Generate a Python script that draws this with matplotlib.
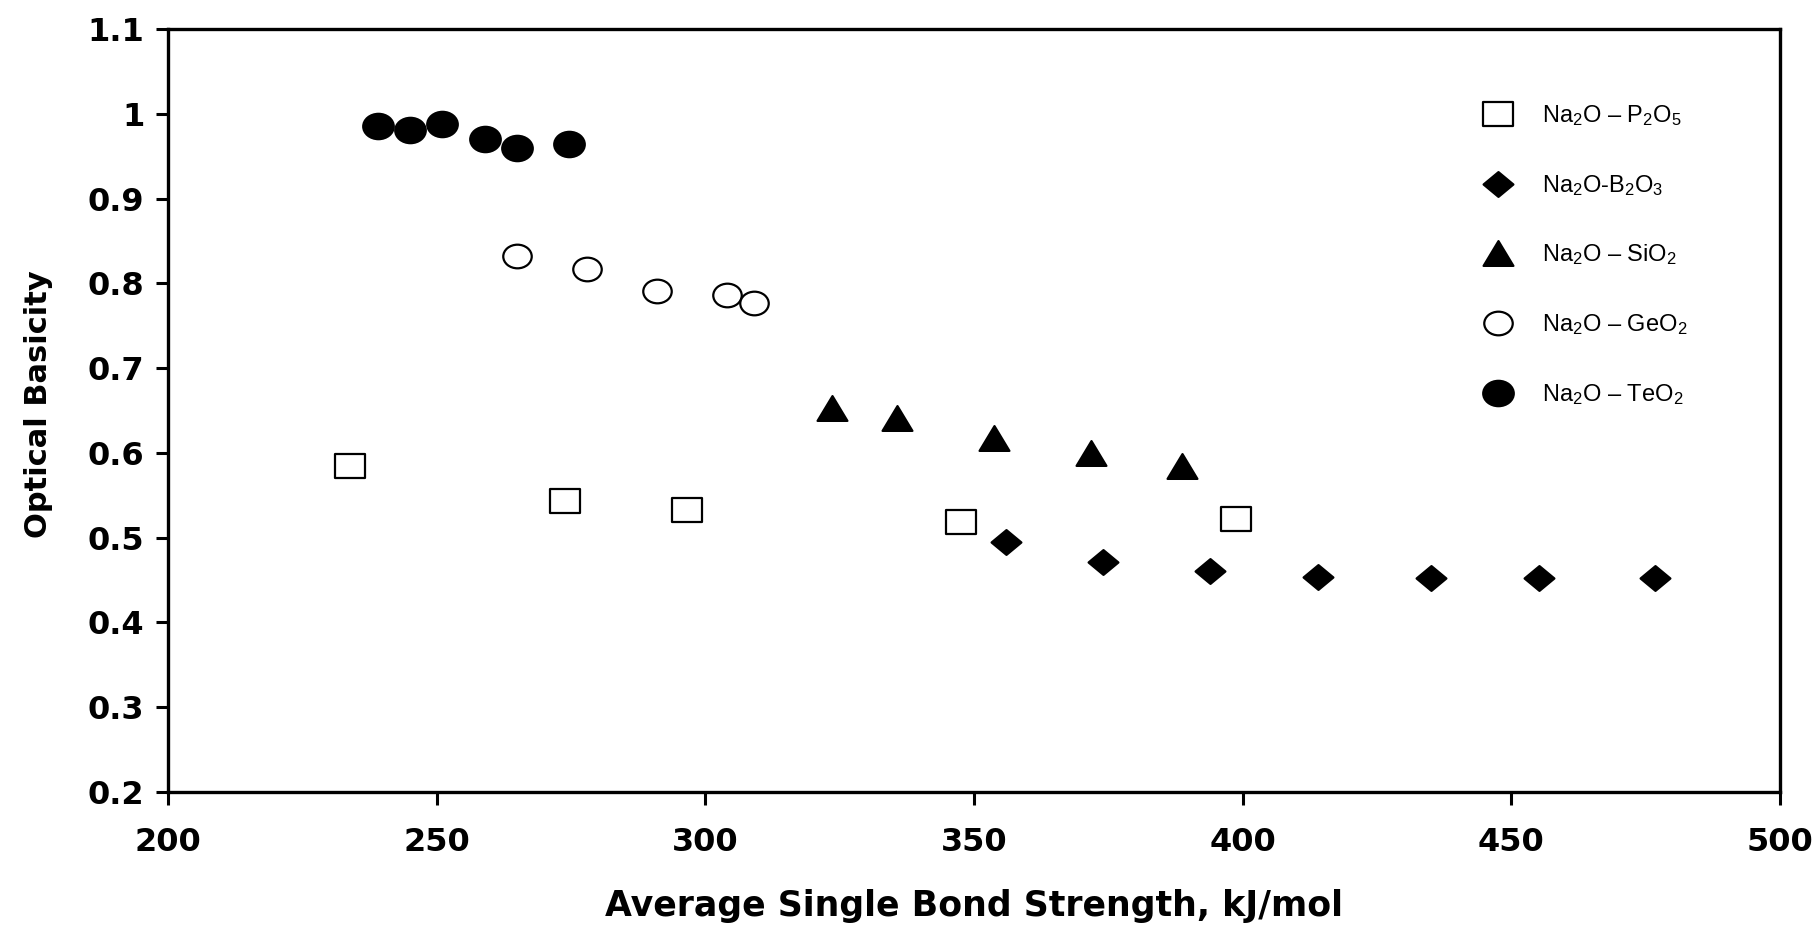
import matplotlib
matplotlib.use("Agg")
import matplotlib.pyplot as plt
from matplotlib.path import Path
from matplotlib.ticker import FuncFormatter
import numpy as np

# Optical basicity vs average single bond strength for sodium glass systems
p2o5_x = [233.8, 273.8, 296.6, 347.6, 398.8]
p2o5_y = [0.584, 0.543, 0.533, 0.519, 0.522]

b2o3_x = [356.0, 374.0, 394.0, 414.0, 435.0, 455.2, 476.8]
b2o3_y = [0.495, 0.471, 0.461, 0.454, 0.453, 0.452, 0.452]

sio2_x = [323.6, 335.6, 353.8, 371.8, 388.8]
sio2_y = [0.653, 0.641, 0.617, 0.600, 0.584]

geo2_x = [265.0, 278.0, 291.0, 304.0, 309.0]
geo2_y = [0.832, 0.817, 0.791, 0.786, 0.777]

teo2_x = [239.0, 245.0, 251.0, 259.0, 265.0, 274.7]
teo2_y = [0.986, 0.981, 0.988, 0.970, 0.960, 0.964]

labels = [r"Na$_2$O – P$_2$O$_5$", r"Na$_2$O-B$_2$O$_3$", r"Na$_2$O – SiO$_2$",
          r"Na$_2$O – GeO$_2$", r"Na$_2$O – TeO$_2$"]

plt.rcParams["font.family"] = ["Liberation Sans", "DejaVu Sans"]
plt.rcParams["mathtext.fontset"] = "custom"
plt.rcParams["mathtext.rm"] = "Liberation Sans"
plt.rcParams["mathtext.it"] = "Liberation Sans:italic"
plt.rcParams["mathtext.bf"] = "Liberation Sans:bold"

# slightly flattened marker shapes
ASP = 0.83
square = Path([(-1, -ASP), (1, -ASP), (1, ASP), (-1, ASP), (-1, -ASP)],
              [Path.MOVETO, Path.LINETO, Path.LINETO, Path.LINETO, Path.CLOSEPOLY])
diamond = Path([(0, ASP), (1, 0), (0, -ASP), (-1, 0), (0, ASP)],
               [Path.MOVETO, Path.LINETO, Path.LINETO, Path.LINETO, Path.CLOSEPOLY])
triangle = Path([(0, ASP), (-1, -ASP), (1, -ASP), (0, ASP)],
                [Path.MOVETO, Path.LINETO, Path.LINETO, Path.CLOSEPOLY])
circ = Path.unit_circle()
ellipse = Path(circ.vertices * np.array([1.0, ASP]), circ.codes)

fig = plt.figure(figsize=(18.18, 9.25), dpi=100)
ax = fig.add_axes([168 / 1818, 1 - 792 / 925, 1612 / 1818, 763 / 925])

ms = 21.5
mew = 1.6
ax.plot(p2o5_x, p2o5_y, ls="none", marker=square, ms=ms, mfc="white", mec="black", mew=mew, label=labels[0])
ax.plot(b2o3_x, b2o3_y, ls="none", marker=diamond, ms=ms, mfc="black", mec="black", mew=mew, label=labels[1])
ax.plot(sio2_x, sio2_y, ls="none", marker=triangle, ms=ms, mfc="black", mec="black", mew=mew, label=labels[2])
ax.plot(geo2_x, geo2_y, ls="none", marker=ellipse, ms=ms - 1, mfc="white", mec="black", mew=mew, label=labels[3])
ax.plot(teo2_x, teo2_y, ls="none", marker=ellipse, ms=ms + 0.5, mfc="black", mec="black", mew=mew, label=labels[4])

ax.set_xlim(200, 500)
ax.set_ylim(0.2, 1.1)
ax.set_xticks(np.arange(200, 501, 50))
ax.set_yticks(np.arange(0.2, 1.101, 0.1))
ax.yaxis.set_major_formatter(FuncFormatter(lambda v, p: "1" if abs(v - 1) < 1e-9 else f"{v:.1f}"))

for s in ax.spines.values():
    s.set_linewidth(2.4)
ax.tick_params(axis="both", direction="out", length=9, width=2.2)
ax.tick_params(axis="x", pad=16)
ax.tick_params(axis="y", pad=8)
for t in ax.get_xticklabels() + ax.get_yticklabels():
    t.set_fontsize(23)
    t.set_fontweight("bold")
    t.set_family("DejaVu Sans")

ax.set_xlabel("Average Single Bond Strength, kJ/mol", fontsize=25, fontweight="bold", family="DejaVu Sans")
ax.xaxis.set_label_coords(0.5, -0.127)
ax.set_ylabel("Optical Basicity", fontsize=22, fontweight="bold", family="DejaVu Sans")
ax.yaxis.set_label_coords(-0.0713, 0.509)

leg = ax.legend(loc="upper left", bbox_to_anchor=(0.815, 0.903), frameon=False,
                fontsize=17, handlelength=1.4, handletextpad=1.15, labelspacing=1.9,
                borderpad=0, borderaxespad=0, numpoints=1)

fig.savefig("out.png", dpi=100, facecolor="white")
